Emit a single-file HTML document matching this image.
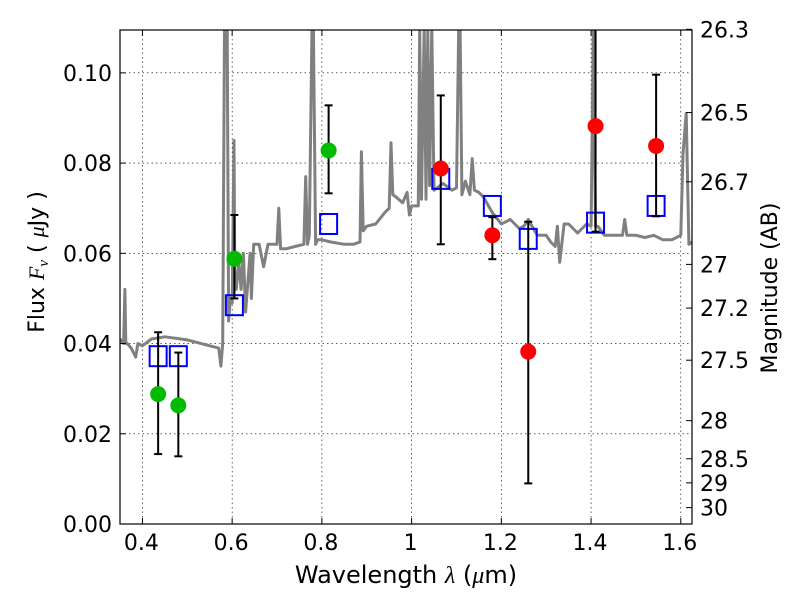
<!DOCTYPE html>
<html><head><meta charset="utf-8"><style>
body{margin:0;background:#fff;}
svg text{font-family:"DejaVu Sans","Liberation Sans",sans-serif;}
</style></head><body>
<svg id="chart" width="800" height="600" xmlns="http://www.w3.org/2000/svg"></svg>
<script>
const xTicks=[0.4,0.6,0.8,1.0,1.2,1.4,1.6];
const xTickLabels=["0.4","0.6","0.8","1","1.2","1.4","1.6"];
const yTicks=[0,0.02,0.04,0.06,0.08,0.10];
const yTickLabels=["0.00","0.02","0.04","0.06","0.08","0.10"];
const magTicks=[26.3,26.5,26.7,27,27.2,27.5,28,28.5,29,30];
const magTickLabels=["26.3","26.5","26.7","27","27.2","27.5","28","28.5","29","30"];
const greenX=[0.435,0.48,0.605,0.815];
const greenY=[0.0288,0.0263,0.0588,0.0828];
const greenLo=[0.0155,0.015,0.050,0.0733];
const greenHi=[0.0425,0.038,0.0685,0.0928];
const redX=[1.065,1.18,1.26,1.41,1.545];
const redY=[0.0788,0.064,0.0382,0.0882,0.0838];
const redLo=[0.062,0.0587,0.009,0.0648,0.0682];
const redHi=[0.095,0.068,0.067,0.115,0.0996];
const modelX=[0.435,0.48,0.605,0.815,1.065,1.18,1.26,1.41,1.545];
const modelY=[0.0372,0.0372,0.0485,0.0665,0.0765,0.0705,0.0632,0.0668,0.0705];
const specX=[0.35,0.358,0.361,0.363,0.366,0.375,0.385,0.39,0.40,0.42,0.45,0.50,0.55,0.57,0.575,0.579,0.583,0.586,0.589,0.592,0.596,0.60,0.604,0.606,0.609,0.615,0.62,0.625,0.63,0.64,0.643,0.648,0.66,0.67,0.68,0.70,0.704,0.708,0.72,0.74,0.76,0.764,0.768,0.772,0.778,0.781,0.786,0.79,0.80,0.82,0.85,0.87,0.885,0.888,0.892,0.90,0.92,0.94,0.95,0.954,0.958,0.965,0.98,0.99,0.995,1.0,1.01,1.015,1.018,1.022,1.028,1.032,1.036,1.04,1.045,1.05,1.07,1.09,1.10,1.105,1.108,1.112,1.12,1.13,1.135,1.14,1.15,1.16,1.18,1.20,1.22,1.24,1.25,1.26,1.28,1.30,1.31,1.32,1.325,1.33,1.34,1.35,1.36,1.37,1.38,1.39,1.40,1.405,1.41,1.415,1.43,1.45,1.47,1.475,1.48,1.50,1.52,1.54,1.56,1.58,1.60,1.605,1.612,1.618,1.625];
const specY=[0.041,0.040,0.052,0.040,0.040,0.039,0.037,0.040,0.0395,0.041,0.0415,0.0408,0.0395,0.039,0.035,0.040,0.11,0.11,0.11,0.045,0.050,0.049,0.085,0.055,0.052,0.058,0.052,0.060,0.047,0.060,0.050,0.062,0.062,0.057,0.062,0.062,0.070,0.061,0.061,0.0615,0.062,0.077,0.062,0.064,0.110,0.110,0.062,0.063,0.063,0.0625,0.062,0.062,0.0625,0.0825,0.065,0.066,0.0665,0.069,0.070,0.0845,0.073,0.0725,0.0712,0.0735,0.0685,0.0705,0.0705,0.0705,0.11,0.072,0.11,0.072,0.11,0.075,0.11,0.074,0.0755,0.074,0.0745,0.11,0.11,0.073,0.076,0.073,0.081,0.074,0.0735,0.0725,0.069,0.0665,0.0675,0.0655,0.066,0.0675,0.064,0.064,0.0625,0.0615,0.066,0.058,0.0665,0.0665,0.0655,0.0645,0.0655,0.0665,0.066,0.11,0.066,0.066,0.064,0.064,0.064,0.0675,0.064,0.064,0.0635,0.064,0.063,0.063,0.064,0.082,0.091,0.062,0.0625];

const svg=document.getElementById('chart');
const NS='http://www.w3.org/2000/svg';
const L=120,R=692,T=30,B=524,X0=0.35,X1=1.625,Y0=0,Y1=0.1095;
const sx=v=>L+(v-X0)/(X1-X0)*(R-L);
const sy=v=>B-(v-Y0)/(Y1-Y0)*(B-T);
const magToFlux=m=>Math.pow(10,-0.4*(m-23.9));
function el(tag,attrs,parent){const e=document.createElementNS(NS,tag);for(const k in attrs)e.setAttribute(k,attrs[k]);(parent||svg).appendChild(e);return e;}

const defs=el('defs',{});
const cp=el('clipPath',{id:'clip'},defs);
el('rect',{x:L,y:T,width:R-L,height:B-T},cp);

const grid=el('g',{});


xTicks.forEach(v=>{el('line',{x1:sx(v),x2:sx(v),y1:T,y2:B,stroke:'#000','stroke-width':0.6,'stroke-dasharray':'1.5,3'},grid);});
yTicks.forEach(v=>{el('line',{x1:L,x2:R,y1:sy(v),y2:sy(v),stroke:'#000','stroke-width':0.6,'stroke-dasharray':'1.5,3'},grid);});

const plot=el('g',{'clip-path':'url(#clip)'});
let d='';specX.forEach((x,i)=>{d+=(i?'L':'M')+sx(x).toFixed(1)+','+sy(specY[i]).toFixed(1);});
const spec=el('path',{d:d,fill:'none',stroke:'#808080','stroke-width':3,'stroke-linejoin':'round'},plot);



function errbar(x,lo,hi,name){
  const g=el('g',{stroke:'#000','stroke-width':2},plot);
  
  
  el('line',{x1:sx(x),x2:sx(x),y1:sy(lo),y2:sy(hi)},g);
  el('line',{x1:sx(x)-4,x2:sx(x)+4,y1:sy(lo),y2:sy(lo)},g);
  el('line',{x1:sx(x)-4,x2:sx(x)+4,y1:sy(hi),y2:sy(hi)},g);
}
modelX.forEach((x,i)=>{
  const r=el('rect',{x:sx(x)-8.5,y:sy(modelY[i])-10,width:17,height:20,fill:'none',stroke:'#0000ff','stroke-width':2},plot);
  
  
});
greenX.forEach((x,i)=>{
  errbar(x,greenLo[i],greenHi[i],'green-errorbar');
  const c=el('circle',{cx:sx(x),cy:sy(greenY[i]),r:8,fill:'#00bb00'},plot);
  
  
});
redX.forEach((x,i)=>{
  errbar(x,redLo[i],redHi[i],'red-errorbar');
  const c=el('circle',{cx:sx(x),cy:sy(redY[i]),r:8,fill:'#ff0000'},plot);
  
  
});

const frame=el('rect',{x:L,y:T,width:R-L,height:B-T,fill:'none',stroke:'#000','stroke-width':1.2});



xTicks.forEach((v,i)=>{
  el('line',{x1:sx(v),x2:sx(v),y1:B,y2:B-6,stroke:'#000'});
  el('line',{x1:sx(v),x2:sx(v),y1:T,y2:T+6,stroke:'#000'});
  const t=el('text',{x:sx(v)-1,y:B+26,'font-size':22,'text-anchor':'middle'});
  t.textContent=xTickLabels[i];
  
  
});
yTicks.forEach((v,i)=>{
  el('line',{x1:L,x2:L+6,y1:sy(v),y2:sy(v),stroke:'#000'});
  const t=el('text',{x:L-8,y:sy(v)+8,'font-size':22,'text-anchor':'end'});
  t.textContent=yTickLabels[i];
  
  
});
magTicks.forEach((m,i)=>{
  const y=sy(magToFlux(m));
  el('line',{x1:R,x2:R-6,y1:y,y2:y,stroke:'#000'});
  const t=el('text',{x:R+8,y:y+8,'font-size':22});
  t.textContent=magTickLabels[i];
  
  
});
const xt=el('text',{x:406,y:583,'font-size':24,'text-anchor':'middle'});
xt.innerHTML='Wavelength  <tspan font-style="italic" font-family="Liberation Serif">λ</tspan> (<tspan font-style="italic" font-family="Liberation Serif">μ</tspan>m)';


const yt=el('text',{x:44,y:262,'font-size':22,'text-anchor':'middle',transform:'rotate(-90 44 262)'});
yt.innerHTML='Flux  <tspan font-style="italic" font-family="Liberation Serif">F</tspan><tspan font-style="italic" font-family="Liberation Serif" font-size="15" dy="4">ν</tspan><tspan dy="-4">  (  </tspan><tspan font-style="italic" font-family="Liberation Serif">μ</tspan>Jy )';


const rt=el('text',{x:777,y:288,'font-size':22,'text-anchor':'middle',transform:'rotate(-90 777 288)'});
rt.textContent='Magnitude (AB)';


</script>
</body></html>
